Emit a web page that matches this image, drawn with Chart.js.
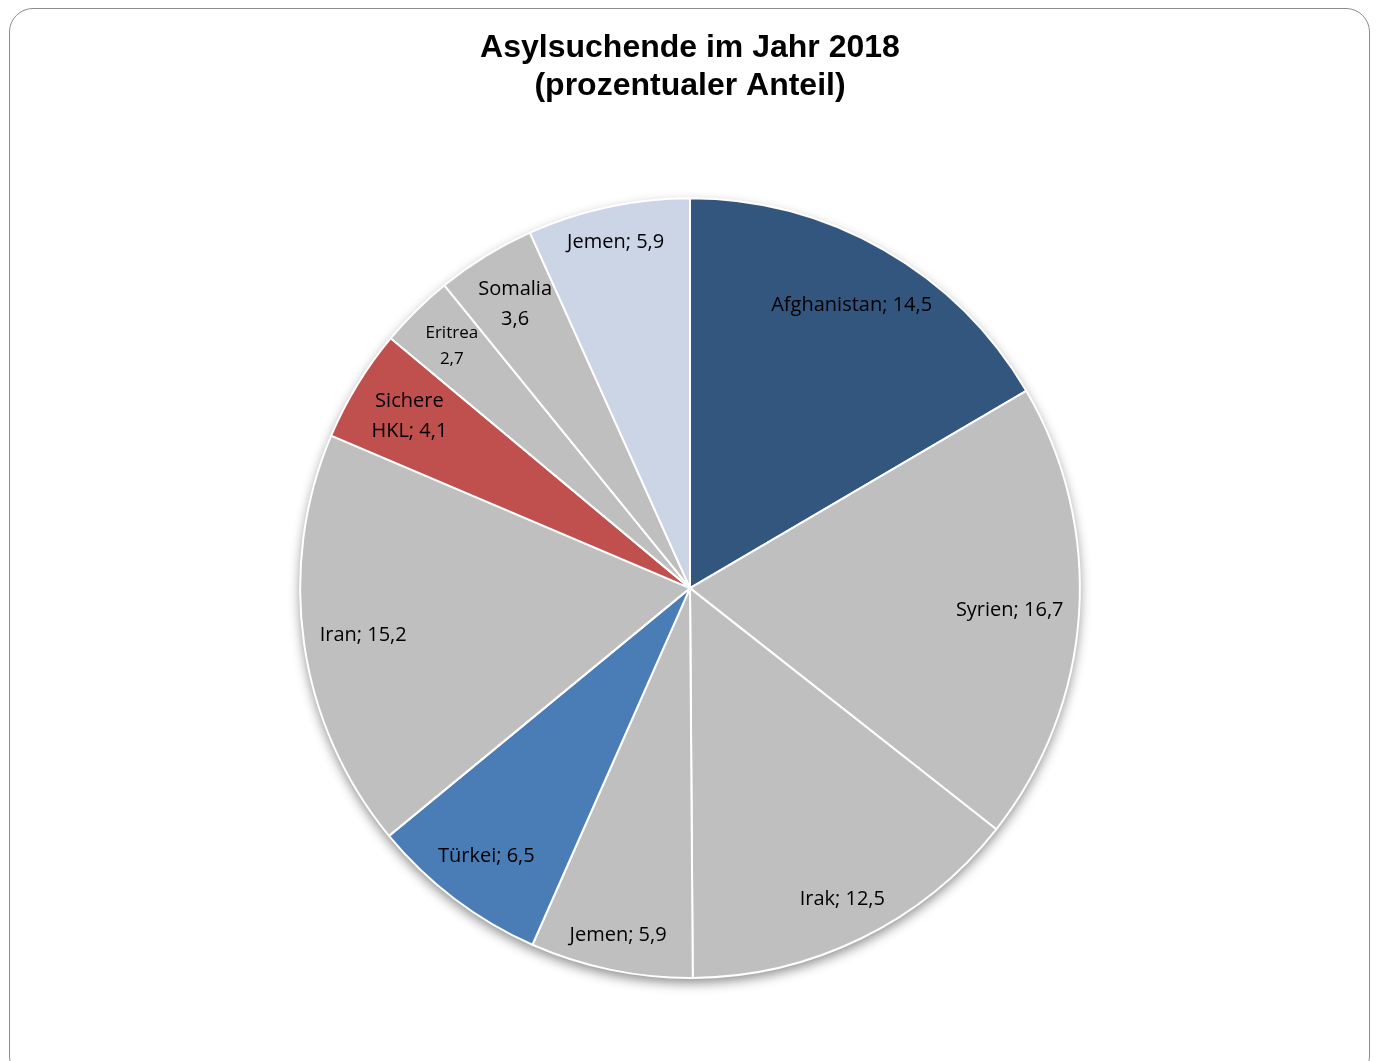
<!DOCTYPE html>
<html>
<head>
<meta charset="utf-8">
<script src="https://cdn.jsdelivr.net/npm/chart.js@4"></script>
<style>
  html, body { margin: 0; padding: 0; background: #fff; }
  #wrap { position: relative; width: 1378px; height: 1061px; overflow: hidden; }
  #frame {
    position: absolute; left: 9px; top: 8px; width: 1359px; height: 1070px;
    border: 1.5px solid #8c8c8c; border-radius: 24px; pointer-events: none;
  }
  canvas { position: absolute; left: 0; top: 0; }
</style>
</head>
<body>
<div id="wrap">
  <canvas id="pieChart" width="1378" height="1061"></canvas>
  <div id="frame"></div>
</div>
<script>
// ------------------------
// DATA
// ------------------------
const countries = ["Afghanistan", "Syrien", "Irak", "Jemen", "Türkei", "Iran", "Sichere HKL", "Eritrea", "Somalia", "Jemen"];
const shares = [14.5, 16.7, 12.5, 5.9, 6.5, 15.2, 4.1, 2.7, 3.6, 5.9];
const sliceLabels = [
  "Afghanistan; 14,5",
  "Syrien; 16,7",
  "Irak; 12,5",
  "Jemen; 5,9",
  "Türkei; 6,5",
  "Iran; 15,2",
  "Sichere\nHKL; 4,1",
  "Eritrea\n2,7",
  "Somalia\n3,6",
  "Jemen; 5,9"
];
const sliceColors = ["#33567f", "#bfbfbf", "#bfbfbf", "#bfbfbf", "#4a7cb6", "#bfbfbf", "#c0504d", "#bfbfbf", "#bfbfbf", "#cbd5e6"];

// ------------------------
// PLUGINS
// ------------------------
const pieShadow = {
  id: "pieShadow",
  beforeDatasetsDraw(chart) {
    const arc = chart.getDatasetMeta(0).data[0];
    if (!arc) return;
    const ctx = chart.ctx;
    ctx.save();
    ctx.shadowColor = "rgba(0,0,0,0.45)";
    ctx.shadowBlur = 12;
    ctx.shadowOffsetY = 5;
    ctx.fillStyle = "#fff";
    ctx.beginPath();
    ctx.arc(arc.x, arc.y, arc.outerRadius, 0, Math.PI * 2);
    ctx.fill();
    ctx.restore();
  }
};

// labels sit inside the slice, text box pushed out towards the rim
const sliceText = {
  id: "sliceText",
  afterDatasetsDraw(chart) {
    const ctx = chart.ctx;
    ctx.save();
    ctx.fillStyle = "#000";
    ctx.textAlign = "center";
    ctx.textBaseline = "middle";
    chart.getDatasetMeta(0).data.forEach((arc, i) => {
      const small = countries[i] === "Eritrea";
      ctx.font = (small ? "17px" : "20px") + " 'Open Sans', 'Noto Sans', sans-serif";
      const lines = sliceLabels[i].split("\n");
      const lh = small ? 26 : 30;
      const w = Math.max(...lines.map(l => ctx.measureText(l).width));
      const h = lines.length * (small ? 20 : 22) + (lines.length - 1) * 8;

      const mid = (arc.startAngle + arc.endAngle) / 2;
      const ux = Math.cos(mid), uy = Math.sin(mid);
      const extent = Math.abs(ux) * w / 2 + Math.abs(uy) * h / 2;
      const r = arc.outerRadius - 15 - extent;
      const x = arc.x + ux * r;
      const y = arc.y + uy * r;

      lines.forEach((line, k) => {
        ctx.fillText(line, x, y + (k - (lines.length - 1) / 2) * lh);
      });
    });
    ctx.restore();
  }
};

// ------------------------
// CHART
// ------------------------
const ctx = document.getElementById("pieChart").getContext("2d");

new Chart(ctx, {
  type: "pie",
  data: {
    labels: countries,
    datasets: [{
      data: shares,
      backgroundColor: sliceColors,
      borderColor: "#ffffff",
      borderWidth: 2
    }]
  },
  options: {
    responsive: false,
    animation: false,
    layout: {
      padding: { top: 0, bottom: 82, left: 2, right: 0 }
    },
    plugins: {
      legend: { display: false },
      tooltip: { enabled: false },
      title: {
        display: true,
        text: ["Asylsuchende im Jahr 2018", "(prozentualer Anteil)"],
        color: "#000",
        font: { family: "'Liberation Sans', Arial, sans-serif", size: 32, weight: "bold", lineHeight: 1.16 },
        padding: { top: 30, bottom: 93 }
      }
    }
  },
  plugins: [pieShadow, sliceText]
});
</script>
</body>
</html>
